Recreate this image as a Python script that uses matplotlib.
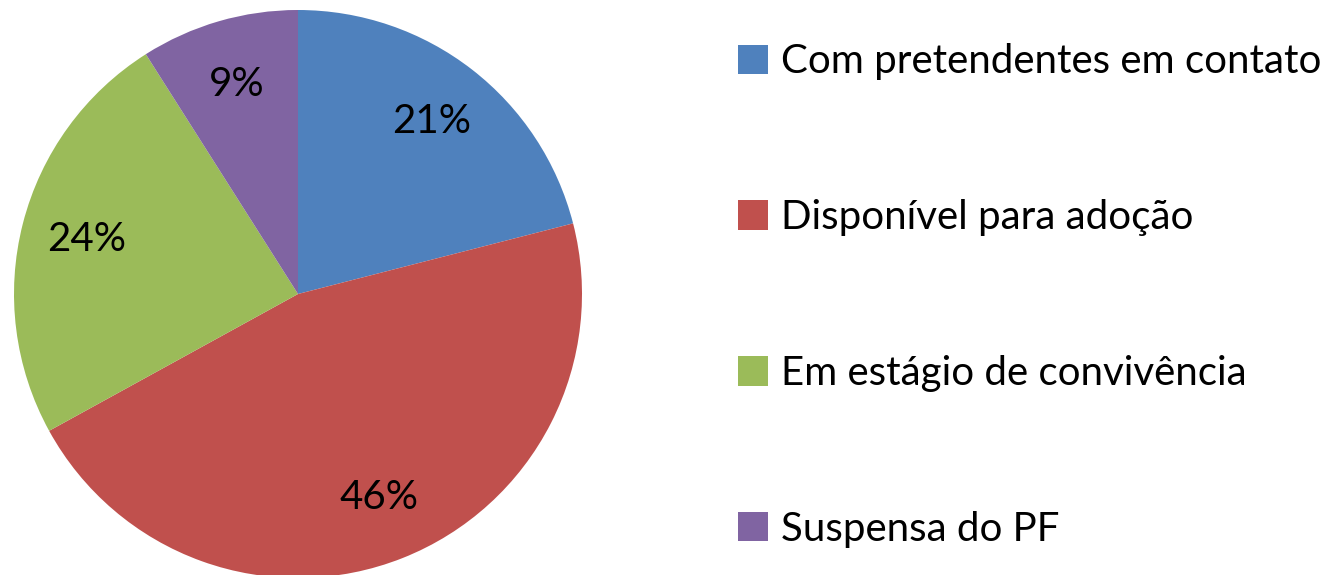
import matplotlib
matplotlib.use('Agg')
import matplotlib.pyplot as plt

labels = ['Com pretendentes em contato', 'Disponível para adoção',
          'Em estágio de convivência', 'Suspensa do PF']
values = [21, 46, 24, 9]
colors = ['#4F81BD', '#C0504D', '#9BBB59', '#8064A2']

plt.rcParams['font.family'] = ['Lato', 'DejaVu Sans']

fig = plt.figure(figsize=(13.34, 5.75), dpi=100)
ax = fig.add_axes([14 / 1334, -3 / 575, 568 / 1334, 568 / 575])
wedges, _, autotexts = ax.pie(values, colors=colors, startangle=90, counterclock=False,
                              autopct='%1.0f%%', pctdistance=0.77,
                              textprops={'fontsize': 29, 'color': 'black'},
                              wedgeprops={'linewidth': 0})
ax.set_aspect('equal')
ax.set_xlim(-1, 1)
ax.set_ylim(-1, 1)

fig.legend(wedges, labels, loc='center left', bbox_to_anchor=(702 / 1334, 0.486),
           frameon=False, fontsize=29, handlelength=0.75, handleheight=0.75,
           handletextpad=0.3, labelspacing=2.95)

fig.savefig('out.png', dpi=100)
